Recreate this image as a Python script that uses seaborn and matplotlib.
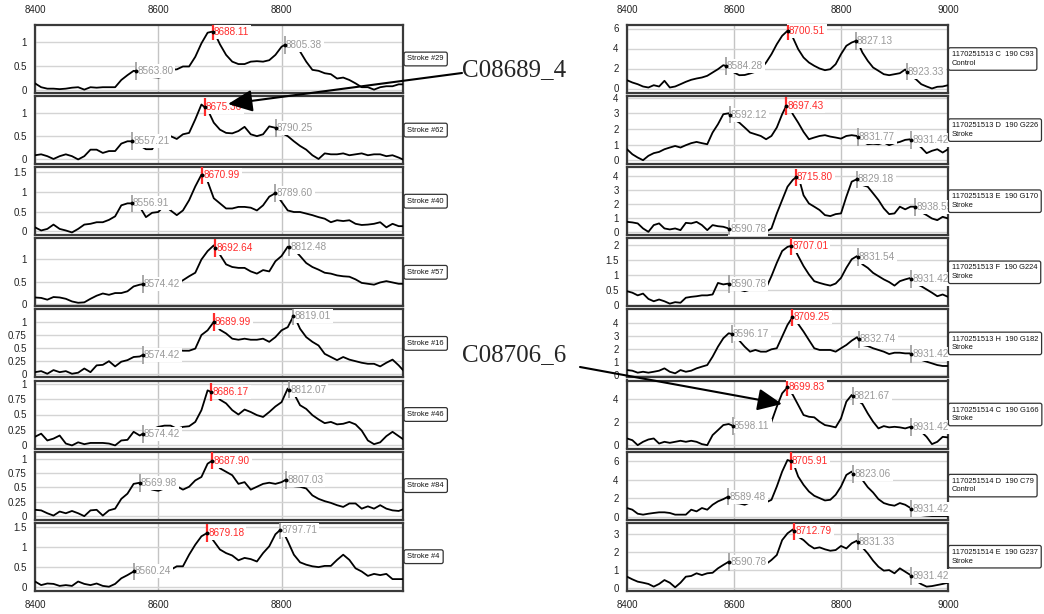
import numpy as np
import pandas as pd
import matplotlib
matplotlib.use("Agg")
import matplotlib.pyplot as plt
import seaborn as sns

sns.set_style("white")
plt.rcParams["font.family"] = ["Liberation Sans", "DejaVu Sans"]

# ---------------- data ----------------
WAVENUMBER = list(range(8400, 9001, 10))

# left column (Stroke samples)
L_NAMES = ["Stroke #29", "Stroke #62", "Stroke #40", "Stroke #57",
           "Stroke #16", "Stroke #46", "Stroke #84", "Stroke #4"]
L1 = [0.14, 0.06, 0.03, 0.03, 0.02, 0.03, 0.05, 0.06, 0.01, 0.06,
      0.05, 0.06, 0.06, 0.06, 0.21, 0.31, 0.40, 0.38, 0.30, 0.27,
      0.26, 0.28, 0.42, 0.43, 0.49, 0.49, 0.69, 0.97, 1.19, 1.22,
      0.95, 0.73, 0.59, 0.54, 0.54, 0.59, 0.60, 0.59, 0.62, 0.73,
      0.90, 0.97, 0.90, 0.80, 0.59, 0.42, 0.40, 0.35, 0.33, 0.24,
      0.26, 0.21, 0.14, 0.06, 0.06, 0.01, 0.06, 0.08, 0.08, 0.12, 0.12]
L2 = [0.09, 0.11, 0.07, 0.01, 0.07, 0.11, 0.07, 0.00, 0.07, 0.21,
      0.21, 0.14, 0.18, 0.18, 0.34, 0.39, 0.39, 0.30, 0.22, 0.22,
      0.45, 0.51, 0.50, 0.44, 0.54, 0.57, 0.86, 1.18, 1.07, 0.79,
      0.64, 0.57, 0.56, 0.61, 0.70, 0.54, 0.50, 0.54, 0.71, 0.68,
      0.57, 0.50, 0.39, 0.29, 0.21, 0.09, 0.01, 0.13, 0.11, 0.11,
      0.13, 0.09, 0.11, 0.13, 0.09, 0.11, 0.11, 0.07, 0.09, 0.04, -0.02]
L3 = [0.10, 0.02, 0.06, 0.17, 0.06, 0.02, -0.03, 0.06, 0.17, 0.19,
      0.23, 0.23, 0.29, 0.38, 0.66, 0.71, 0.71, 0.62, 0.36, 0.47,
      0.49, 0.66, 0.53, 0.41, 0.53, 0.79, 1.14, 1.44, 1.27, 0.84,
      0.71, 0.58, 0.58, 0.62, 0.62, 0.60, 0.53, 0.66, 0.88, 0.97,
      0.75, 0.53, 0.49, 0.49, 0.45, 0.41, 0.36, 0.32, 0.23, 0.28,
      0.26, 0.28, 0.19, 0.16, 0.17, 0.19, 0.23, 0.10, 0.19, 0.13, 0.13]
L4 = [0.14, 0.13, 0.09, 0.15, 0.14, 0.11, 0.05, 0.02, 0.03, 0.11,
      0.18, 0.23, 0.20, 0.24, 0.24, 0.28, 0.39, 0.43, 0.45, 0.50,
      0.52, 0.55, 0.45, 0.45, 0.53, 0.62, 0.70, 1.00, 1.19, 1.32,
      1.11, 0.89, 0.83, 0.81, 0.81, 0.73, 0.68, 0.76, 0.73, 0.96,
      1.08, 1.29, 1.23, 1.08, 0.92, 0.83, 0.77, 0.70, 0.68, 0.64,
      0.62, 0.61, 0.55, 0.47, 0.45, 0.43, 0.48, 0.51, 0.48, 0.45, 0.45]
L5 = [0.04, 0.06, 0.01, 0.08, 0.04, 0.06, 0.01, 0.03, 0.11, 0.04,
      0.17, 0.18, 0.25, 0.15, 0.24, 0.27, 0.33, 0.34, 0.40, 0.42,
      0.44, 0.46, 0.46, 0.47, 0.45, 0.45, 0.49, 0.75, 0.84, 1.00,
      0.85, 0.78, 0.68, 0.66, 0.68, 0.66, 0.66, 0.68, 0.62, 0.71,
      0.84, 0.90, 1.13, 0.87, 0.71, 0.62, 0.55, 0.39, 0.33, 0.27,
      0.33, 0.28, 0.25, 0.22, 0.20, 0.20, 0.15, 0.22, 0.28, 0.17, 0.04]
L6 = [0.14, 0.19, 0.08, 0.11, 0.16, 0.03, 0.00, 0.05, 0.02, 0.04,
      0.04, 0.04, 0.03, 0.00, 0.08, 0.09, 0.22, 0.16, 0.22, 0.26,
      0.30, 0.32, 0.32, 0.27, 0.30, 0.31, 0.38, 0.57, 0.89, 0.85,
      0.74, 0.68, 0.57, 0.50, 0.58, 0.54, 0.49, 0.46, 0.54, 0.63,
      0.70, 0.92, 0.84, 0.65, 0.59, 0.49, 0.42, 0.36, 0.38, 0.34,
      0.35, 0.38, 0.34, 0.24, 0.08, 0.02, 0.05, 0.15, 0.22, 0.15, 0.08]
L7 = [0.11, 0.10, 0.05, 0.01, 0.08, 0.05, 0.09, 0.05, 0.00, 0.10,
      0.11, 0.01, 0.10, 0.13, 0.30, 0.39, 0.56, 0.58, 0.50, 0.46,
      0.44, 0.48, 0.52, 0.52, 0.46, 0.51, 0.62, 0.68, 0.91, 0.98,
      0.83, 0.77, 0.71, 0.56, 0.59, 0.46, 0.51, 0.56, 0.58, 0.56,
      0.59, 0.65, 0.52, 0.51, 0.48, 0.36, 0.30, 0.26, 0.23, 0.19,
      0.16, 0.22, 0.22, 0.13, 0.17, 0.13, 0.19, 0.13, 0.10, 0.09, 0.13]
L8 = [0.13, 0.04, 0.08, 0.07, 0.02, 0.04, 0.02, 0.13, 0.07, 0.04,
      0.08, 0.02, 0.00, 0.07, 0.21, 0.29, 0.38, 0.39, 0.40, 0.40,
      0.41, 0.40, 0.42, 0.51, 0.51, 0.80, 1.05, 1.26, 1.35, 1.14,
      0.93, 0.84, 0.78, 0.66, 0.72, 0.69, 0.63, 0.84, 1.01, 1.31,
      1.45, 1.14, 0.80, 0.61, 0.55, 0.51, 0.49, 0.52, 0.52, 0.67,
      0.80, 0.67, 0.46, 0.38, 0.27, 0.32, 0.29, 0.32, 0.19, 0.19, 0.19]

# right column (1170251513/14 samples)
R_NAMES = ["1170251513 C  190 C93\nControl", "1170251513 D  190 G226\nStroke",
           "1170251513 E  190 G170\nStroke", "1170251513 F  190 G224\nStroke",
           "1170251513 H  190 G182\nStroke", "1170251514 C  190 G166\nStroke",
           "1170251514 D  190 C79\nControl", "1170251514 E  190 G237\nStroke"]
R1 = [0.83, 0.60, 0.43, 0.20, 0.10, 0.33, 0.20, 0.77, 0.10, 0.20,
      0.43, 0.67, 0.87, 1.00, 1.10, 1.27, 1.60, 1.93, 2.33, 2.20,
      1.60, 1.33, 1.35, 1.50, 1.67, 1.93, 2.60, 3.43, 4.43, 5.27,
      5.77, 5.10, 3.93, 3.10, 2.60, 2.27, 2.00, 1.83, 1.93, 2.43,
      3.43, 4.27, 4.60, 4.80, 3.60, 2.77, 2.10, 1.77, 1.43, 1.33,
      1.43, 1.53, 1.90, 1.27, 0.93, 0.43, 0.20, 0.00, 0.17, 0.20, 0.33]
R2 = [0.70, 0.38, 0.17, 0.00, 0.28, 0.45, 0.53, 0.70, 0.81, 0.91,
      0.81, 0.96, 1.09, 1.17, 1.09, 1.02, 1.77, 2.30, 2.94, 3.00,
      2.60, 2.40, 2.09, 1.77, 1.66, 1.55, 1.34, 1.55, 2.09, 2.94,
      3.64, 2.94, 2.40, 1.81, 1.34, 1.45, 1.55, 1.60, 1.51, 1.45,
      1.38, 1.55, 1.60, 1.55, 1.20, 1.02, 1.05, 1.02, 1.13, 0.96,
      1.09, 1.17, 1.30, 1.34, 1.10, 0.81, 0.45, 0.60, 0.70, 0.49, 0.70]
R3 = [0.71, 0.67, 0.60, 0.24, 0.00, 0.48, 0.60, 0.24, 0.17, 0.24,
      0.12, 0.64, 0.60, 0.71, 0.48, 0.12, 0.48, 0.40, 0.36, 0.24,
      0.10, 0.05, 0.02, 0.00, 0.00, 0.00, 0.00, 0.24, 1.31, 2.26,
      3.21, 3.70, 4.00, 2.60, 2.02, 1.79, 1.55, 1.19, 1.12, 1.26,
      1.31, 2.50, 3.57, 3.75, 3.33, 3.21, 2.74, 2.26, 1.67, 1.26,
      1.31, 1.79, 1.60, 1.79, 1.79, 1.40, 1.19, 0.95, 0.83, 1.07, 0.95]
R4 = [0.45, 0.40, 0.31, 0.37, 0.19, 0.11, 0.17, 0.11, 0.03, 0.08,
      0.06, 0.23, 0.26, 0.28, 0.31, 0.31, 0.34, 0.73, 0.68, 0.71,
      0.60, 0.50, 0.45, 0.50, 0.55, 0.55, 0.56, 0.96, 1.41, 1.81,
      1.95, 2.00, 1.64, 1.30, 1.02, 0.79, 0.73, 0.68, 0.64, 0.71,
      0.90, 1.24, 1.53, 1.64, 1.36, 1.24, 1.07, 0.96, 0.85, 0.76,
      0.64, 0.79, 0.85, 0.90, 0.70, 0.62, 0.51, 0.40, 0.28, 0.34, 0.26]
R5 = [0.38, 0.33, 0.18, 0.25, 0.18, 0.25, 0.33, 0.51, 0.25, 0.13,
      0.38, 0.25, 0.33, 0.51, 0.64, 0.76, 1.40, 2.16, 2.80, 3.18,
      3.10, 2.62, 2.16, 1.78, 1.91, 1.78, 1.78, 1.96, 2.04, 2.93,
      3.82, 4.45, 3.89, 3.31, 2.67, 2.04, 1.91, 1.91, 1.91, 1.78,
      2.04, 2.29, 2.62, 2.88, 2.29, 2.21, 2.04, 1.91, 1.78, 1.60,
      1.70, 1.70, 1.65, 1.65, 1.40, 1.15, 1.02, 0.89, 0.76, 0.69, 0.69]
R6 = [0.58, 0.43, 0.00, 0.29, 0.49, 0.58, 0.14, 0.29, 0.20, 0.29,
      0.38, 0.29, 0.38, 0.29, 0.09, 0.00, 0.87, 1.30, 1.74, 1.83,
      1.65, 1.60, 1.55, 1.50, 1.55, 1.60, 1.65, 2.03, 3.33, 4.49,
      5.01, 4.35, 3.48, 2.61, 2.46, 2.41, 2.03, 1.74, 1.65, 1.54,
      2.32, 3.77, 4.35, 3.90, 3.57, 2.75, 2.03, 1.45, 1.65, 1.54,
      1.59, 1.54, 1.45, 1.59, 1.30, 1.16, 0.72, 0.09, 0.29, 0.72, 0.67]
R7 = [0.96, 0.78, 0.35, 0.25, 0.35, 0.43, 0.50, 0.50, 0.43, 0.25,
      0.25, 0.25, 0.78, 0.60, 0.96, 0.78, 1.31, 1.67, 1.91, 2.20,
      1.50, 1.45, 1.31, 1.56, 1.65, 1.77, 1.56, 1.84, 3.26, 4.86,
      6.10, 5.90, 4.33, 3.44, 2.73, 2.27, 2.02, 1.77, 1.84, 2.38,
      3.26, 4.50, 4.86, 4.10, 3.97, 3.19, 2.62, 1.91, 1.49, 1.31,
      1.21, 1.49, 1.31, 0.96, 0.50, 0.20, 0.14, 0.10, 0.10, 0.10, 0.10]
R8 = [0.62, 0.47, 0.34, 0.28, 0.21, 0.06, 0.21, 0.43, 0.28, 0.02,
      0.28, 0.62, 0.66, 0.81, 0.71, 0.81, 0.84, 1.09, 1.28, 1.46,
      1.40, 1.38, 1.35, 1.34, 1.33, 1.33, 1.33, 1.56, 1.84, 2.68,
      3.06, 3.28, 2.87, 2.68, 2.40, 2.21, 2.27, 2.16, 2.08, 2.12,
      2.35, 2.21, 2.50, 2.65, 2.27, 1.93, 1.52, 1.18, 0.96, 0.99,
      0.81, 1.09, 0.90, 0.71, 0.40, 0.20, 0.06, 0.09, 0.15, 0.21, 0.28]

L_SERIES = [L1, L2, L3, L4, L5, L6, L7, L8]
R_SERIES = [R1, R2, R3, R4, R5, R6, R7, R8]

# peak annotations: (red main peak, [grey peaks])
L_PEAKS = [(8688.11, [8563.80, 8805.38]), (8675.36, [8557.21, 8790.25]),
           (8670.99, [8556.91, 8789.60]), (8692.64, [8574.42, 8812.48]),
           (8689.99, [8574.42, 8819.01]), (8686.17, [8574.42, 8812.07]),
           (8687.90, [8569.98, 8807.03]), (8679.18, [8560.24, 8797.71])]
R_PEAKS = [(8700.51, [8584.28, 8827.13, 8923.33]), (8697.43, [8592.12, 8831.77, 8931.42]),
           (8715.80, [8590.78, 8829.18, 8938.55]), (8707.01, [8590.78, 8831.54, 8931.42]),
           (8709.25, [8596.17, 8832.74, 8931.42]), (8699.83, [8598.11, 8821.67, 8931.42]),
           (8705.91, [8589.48, 8823.06, 8931.42]), (8712.79, [8590.78, 8831.33, 8931.42])]

L_YLIM = [(-0.06, 1.35), (-0.10, 1.36), (-0.10, 1.63), (-0.06, 1.48),
          (-0.06, 1.24), (-0.05, 1.05), (-0.06, 1.12), (-0.10, 1.60)]
L_YTICKS = [[0, 0.5, 1], [0, 0.5, 1], [0, 0.5, 1, 1.5], [0, 0.5, 1],
            [0, 0.25, 0.5, 0.75, 1], [0, 0.25, 0.5, 0.75, 1],
            [0, 0.25, 0.5, 0.75, 1], [0, 0.5, 1, 1.5]]
R_YLIM = [(-0.45, 6.35), (-0.25, 4.10), (-0.24, 4.60), (-0.06, 2.24),
          (-0.18, 5.00), (-0.29, 5.60), (-0.28, 7.00), (-0.17, 3.66)]
R_YTICKS = [[0, 2, 4, 6], [0, 1, 2, 3, 4], [0, 1, 2, 3, 4], [0, 0.5, 1, 1.5, 2],
            [0, 1, 2, 3, 4], [0, 2, 4], [0, 2, 4, 6], [0, 1, 2, 3]]

L_XTICKS = [8400, 8600, 8800]
R_XTICKS = [8400, 8600, 8800, 9000]

# ---------------- drawing ----------------
W, H = 1044, 614
fig = plt.figure(figsize=(W / 100, H / 100), dpi=100)

RED = "#ff2a2a"
GREY = "#9a9a9a"


def fmt(v):
    return "%g" % v


def draw_panel(ax, values, ylim, yticks, xlim, xticks, peaks, name,
               show_top, show_bottom):
    df = pd.DataFrame({"wn": WAVENUMBER, "val": values})
    sns.lineplot(data=df, x="wn", y="val", ax=ax, color="black", lw=1.3,
                 legend=False, zorder=3)
    ax.set_xlim(*xlim)
    ax.set_ylim(*ylim)
    ax.set_xticks(xticks)
    ax.set_yticks(yticks)
    ax.set_yticklabels([fmt(t) for t in yticks])
    ax.set_xlabel("")
    ax.set_ylabel("")
    ax.grid(True, axis="y", color="#d4d4d4", lw=1.0, zorder=0)
    ax.grid(True, axis="x", color="#c4c4c4", lw=1.0, zorder=0)
    ax.tick_params(axis="both", length=0, labelsize=7, colors="#222222")
    ax.tick_params(axis="y", pad=6)
    ax.tick_params(axis="x", pad=7, labeltop=show_top, labelbottom=show_bottom)
    for sp in ax.spines.values():
        sp.set_visible(True)
        sp.set_color("#3a3a3a")
        sp.set_linewidth(1.6)
    span = (ylim[1] - ylim[0]) * 0.13
    red_x, grey_xs = peaks
    for px, col, lw in [(red_x, RED, 1.6)] + [(g, GREY, 1.2) for g in grey_xs]:
        py = float(np.interp(px, WAVENUMBER, values))
        ax.plot([px, px], [py - span, py + span], color=col, lw=lw, zorder=5,
                solid_capstyle="butt", clip_on=True)
        ax.plot([px], [py], "o", color="black", ms=1.8, zorder=6)
        ax.text(px + 2, py, "%.2f" % px, color=col, fontsize=7.2, ha="left",
                va="center", zorder=4, clip_on=False,
                bbox=dict(boxstyle="square,pad=0.2", fc="white", ec="none"))
    # sample label box
    ax.text(1.012, 0.5, name, transform=ax.transAxes, fontsize=5.4,
            ha="left", va="center", color="#111111", zorder=10,
            linespacing=1.35,
            bbox=dict(boxstyle="round,pad=0.45,rounding_size=0.25",
                      fc="white", ec="#333333", lw=0.9))


PANEL_H = 68
TOPS = [25 + i * 71.1 for i in range(8)]

for i in range(8):
    t = TOPS[i]
    axl = fig.add_axes([35 / W, 1 - (t + PANEL_H) / H, 368 / W, PANEL_H / H])
    draw_panel(axl, L_SERIES[i], L_YLIM[i], L_YTICKS[i], (8400, 8997), L_XTICKS,
               L_PEAKS[i], L_NAMES[i], i == 0, i == 7)
    axr = fig.add_axes([627 / W, 1 - (t + PANEL_H) / H, 321 / W, PANEL_H / H])
    draw_panel(axr, R_SERIES[i], R_YLIM[i], R_YTICKS[i], (8400, 9000), R_XTICKS,
               R_PEAKS[i], R_NAMES[i], i == 0, i == 7)

# sample-ID call-outs with arrows
arrow_kw = dict(arrowstyle="-|>,head_length=1.0,head_width=0.45", color="black",
                lw=1.5, mutation_scale=15, shrinkA=0, shrinkB=0)
fig.text(462 / W, 1 - 70 / H, "C08689_4", fontsize=18, family="Liberation Serif",
         ha="left", va="center", zorder=20)
fig.add_artist(matplotlib.patches.FancyArrowPatch(
    (462 / W, 1 - 73 / H), (228 / W, 1 - 104 / H), transform=fig.transFigure,
    zorder=20, **arrow_kw))
fig.text(462 / W, 1 - 355 / H, "C08706_6", fontsize=18, family="Liberation Serif",
         ha="left", va="center", zorder=20)
fig.add_artist(matplotlib.patches.FancyArrowPatch(
    (580 / W, 1 - 367 / H), (782 / W, 1 - 404 / H), transform=fig.transFigure,
    zorder=20, **arrow_kw))

fig.savefig("out.png", dpi=100)
